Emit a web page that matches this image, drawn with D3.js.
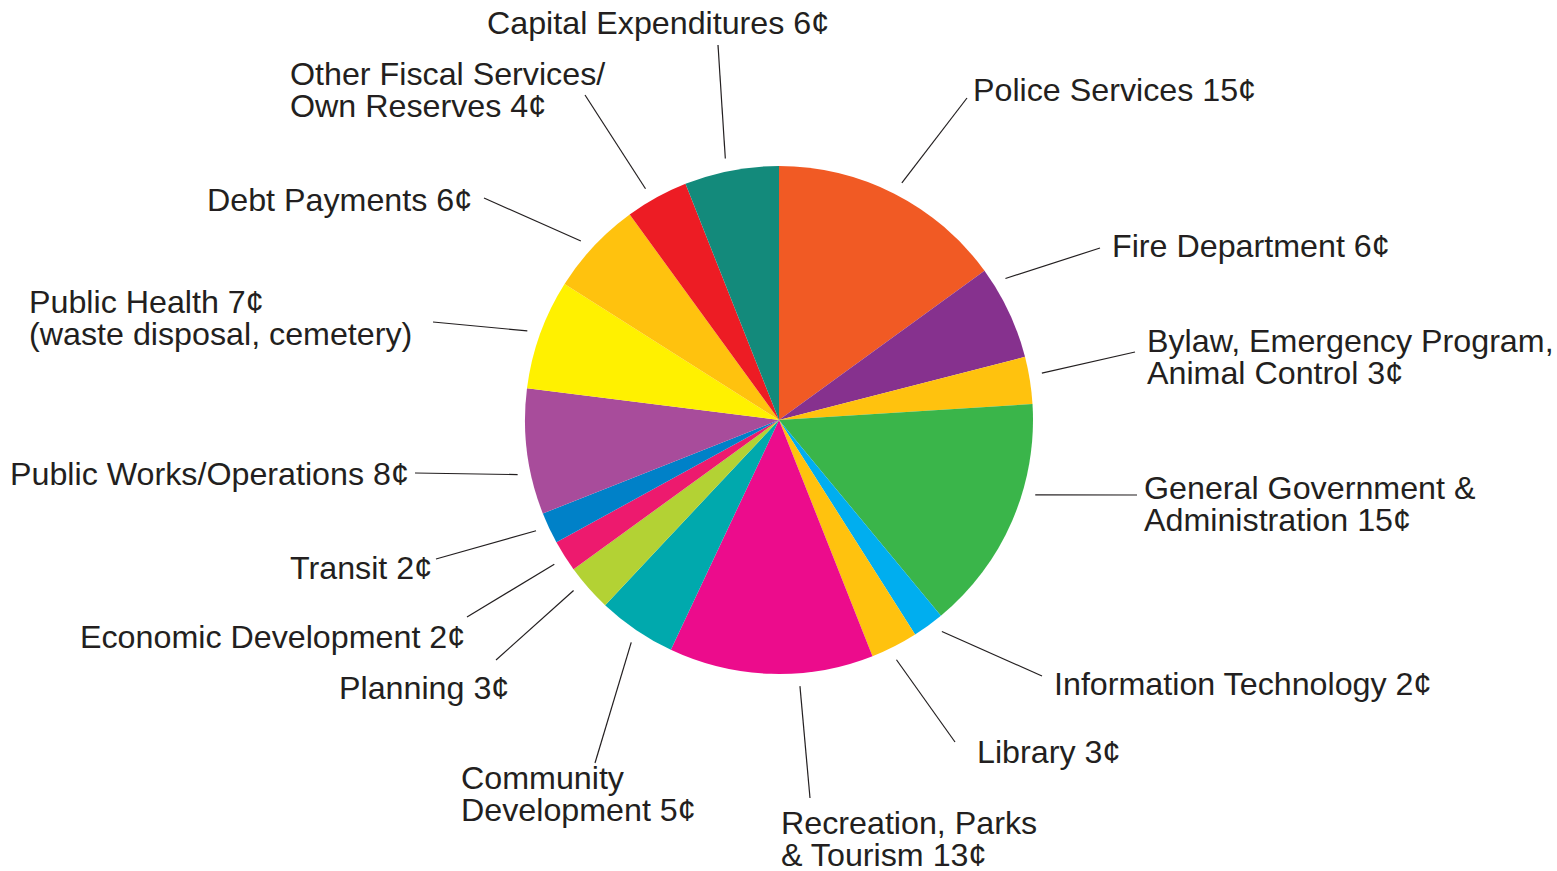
<!DOCTYPE html>
<html>
<head>
<meta charset="utf-8">
<script src="https://cdn.jsdelivr.net/npm/d3@7"></script>
<style>
  html, body { margin: 0; padding: 0; background: #fff; }
  svg { display: block; }
</style>
</head>
<body>
<svg id="chart"></svg>
<script>
const WIDTH = 1557;
const HEIGHT = 871;

// budget slices, clockwise from 12 o'clock ({v} gets the cents)
const categories = [
  "Police Services {v}",
  "Fire Department {v}",
  "Bylaw, Emergency Program,|Animal Control {v}",
  "General Government &|Administration {v}",
  "Information Technology {v}",
  "Library {v}",
  "Recreation, Parks|& Tourism {v}",
  "Community|Development {v}",
  "Planning {v}",
  "Economic Development {v}",
  "Transit {v}",
  "Public Works/Operations {v}",
  "Public Health {v}|(waste disposal, cemetery)",
  "Debt Payments {v}",
  "Other Fiscal Services/|Own Reserves {v}",
  "Capital Expenditures {v}"
];
const cents = [15, 6, 3, 15, 2, 3, 13, 5, 3, 2, 2, 8, 7, 6, 4, 6];
const sliceColors = [
  "#f15a24", "#86318e", "#ffc20e", "#3ab54a", "#00aeef", "#ffc20e",
  "#ec0c8c", "#00a9ad", "#b3d234", "#ed1a6e", "#0081c8", "#a84c9b",
  "#fff100", "#ffc20e", "#ed1c24", "#138a7b"
];

// label layout: text origin, leader end, angle nudge of the leader start (deg)
const labelPos = [
  { x: 973,  y: 101, ex: 967,  ey: 98,  nudge: 0.4 },
  { x: 1112, y: 257, ex: 1100, ey: 248, nudge: -6.8 },
  { x: 1147, y: 352, ex: 1135, ey: 352, nudge: -1.1 },
  { x: 1144, y: 499, ex: 1137, ey: 495, nudge: -7.1 },
  { x: 1054, y: 695, ex: 1042, ey: 676, nudge: -1.6 },
  { x: 977,  y: 763, ex: 955,  ey: 742, nudge: 0.9 },
  { x: 781,  y: 834, ex: 810,  ey: 798, nudge: -6.3 },
  { x: 461,  y: 789, ex: 595,  ey: 763, nudge: -0.6 },
  { x: 339,  y: 699, ex: 496,  ey: 660, nudge: 1.7 },
  { x: 80,   y: 648, ex: 467,  ey: 617, nudge: -0.3 },
  { x: 290,  y: 579, ex: 436,  ey: 559, nudge: 0.7 },
  { x: 10,   y: 485, ex: 415,  ey: 473, nudge: -4.6 },
  { x: 29,   y: 313, ex: 433,  ey: 322, nudge: -0.3 },
  { x: 207,  y: 211, ex: 484,  ey: 198, nudge: -1.1 },
  { x: 290,  y: 85,  ex: 585,  ey: 95,  nudge: -1.2 },
  { x: 487,  y: 34,  ex: 718,  ey: 45,  nudge: -0.8 }
];

const CX = 779, CY = 420, R = 254;
const LINE_H = 32;
const TEXT_COLOR = "#231f20";

const svg = d3.select("#chart").attr("width", WIDTH).attr("height", HEIGHT);

const slices = d3.pie().sort(null).value(d => d)(cents);
const arc = d3.arc().innerRadius(0).outerRadius(R);

const g = svg.append("g").attr("transform", `translate(${CX},${CY})`);

g.selectAll("path")
  .data(slices)
  .join("path")
  .attr("d", arc)
  .attr("fill", (d, i) => sliceColors[i]);

// leader lines
const toRad = Math.PI / 180;
svg.append("g").selectAll("line")
  .data(slices)
  .join("line")
  .attr("x1", (d, i) => CX + Math.sin((d.startAngle + d.endAngle) / 2 + labelPos[i].nudge * toRad) * (R + 13))
  .attr("y1", (d, i) => CY - Math.cos((d.startAngle + d.endAngle) / 2 + labelPos[i].nudge * toRad) * (R + 13))
  .attr("x2", (d, i) => labelPos[i].ex)
  .attr("y2", (d, i) => labelPos[i].ey)
  .attr("stroke", TEXT_COLOR)
  .attr("stroke-width", 1.2);

// labels
const labels = svg.append("g")
  .attr("font-family", "'Liberation Sans', Arial, Helvetica, sans-serif")
  .attr("font-size", 32)
  .attr("fill", TEXT_COLOR)
  .selectAll("text")
  .data(categories)
  .join("text")
  .attr("transform", (d, i) => `translate(${labelPos[i].x},${labelPos[i].y})`);

labels.selectAll("tspan")
  .data((d, i) => d.replace("{v}", cents[i] + "\u00a2").split("|"))
  .join("tspan")
  .attr("x", 0)
  .attr("y", (d, j) => j * LINE_H)
  .text(d => d);

// fit the type width to the original, using the Public Works label as the gauge
const ref = labels.filter((d, i) => i === 11).node().getComputedTextLength();
const sx = 399 / ref;
labels.attr("transform", (d, i) => `translate(${labelPos[i].x},${labelPos[i].y}) scale(${sx},1)`);
</script>
</body>
</html>
